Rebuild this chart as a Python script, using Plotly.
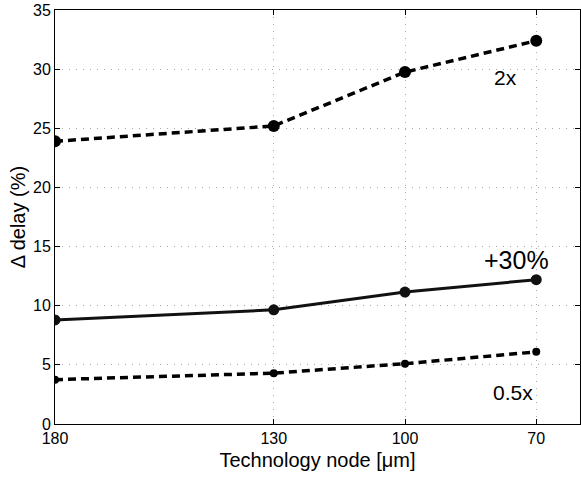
import plotly.graph_objects as go

# Technology nodes and their positions along the horizontal axis
nodes = ["180", "130", "100", "70"]
node_pos = [0, 5, 8, 11]

# Delay increase (%) for each load scenario
delay_2x = [23.9, 25.2, 29.75, 32.4]
delay_30 = [8.8, 9.65, 11.15, 12.2]
delay_05x = [3.75, 4.3, 5.1, 6.1]

y_ticks = [0, 5, 10, 15, 20, 25, 30, 35]

fig = go.Figure()

fig.add_trace(go.Scatter(
    x=node_pos, y=delay_2x, mode="lines+markers",
    line=dict(color="black", width=3.5, dash="8px,5px"),
    marker=dict(color="black", size=12),
))
fig.add_trace(go.Scatter(
    x=node_pos, y=delay_30, mode="lines+markers",
    line=dict(color="#111111", width=3),
    marker=dict(color="#111111", size=11),
))
fig.add_trace(go.Scatter(
    x=node_pos, y=delay_05x, mode="lines+markers",
    line=dict(color="black", width=3.5, dash="8px,5px"),
    marker=dict(color="black", size=8),
))

font_family = "Liberation Sans, Arial, sans-serif"

annotations = [
    dict(x=10.3, y=29.3, text="2x", font=dict(size=21)),
    dict(x=10.55, y=13.85, text="+30%", font=dict(size=25)),
    dict(x=10.47, y=2.65, text="0.5x", font=dict(size=21)),
]
for a in annotations:
    a.update(xref="x", yref="y", showarrow=False)
    a["font"].update(color="black", family=font_family)

fig.update_layout(
    width=581, height=479,
    margin=dict(l=55, r=1, t=10, b=55),
    paper_bgcolor="white", plot_bgcolor="white",
    showlegend=False,
    font=dict(family=font_family, color="black", size=16),
    annotations=annotations,
)

axis_common = dict(
    showline=True, linecolor="black", linewidth=1, mirror="allticks",
    ticks="inside", ticklen=5, tickcolor="black",
    showgrid=True, gridcolor="#a8a8a8", gridwidth=1, griddash="1px,6px",
    zeroline=False, tickfont=dict(size=16),
)

fig.update_xaxes(
    range=[0, 12], tickvals=node_pos, ticktext=nodes,
    title=dict(text="Technology node [μm]", font=dict(size=20), standoff=6),
    **axis_common,
)
fig.update_yaxes(
    range=[0, 35], tickvals=y_ticks,
    title=dict(text="Δ delay (%)", font=dict(size=20), standoff=2),
    **axis_common,
)

fig.write_html("out.html")
